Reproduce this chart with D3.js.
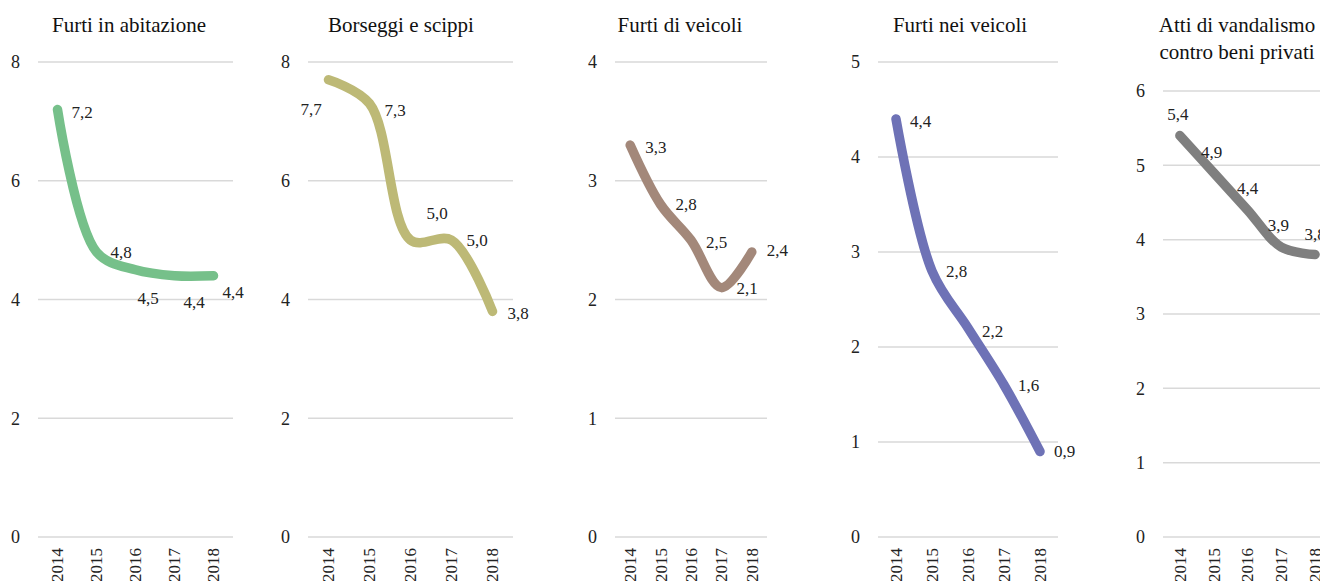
<!DOCTYPE html>
<html>
<head>
<meta charset="utf-8">
<script src="https://cdn.jsdelivr.net/npm/d3@7"></script>
<style>
  body { margin: 0; background: #fff; }
</style>
</head>
<body>
<script>
// categories and series
var years = ["2014", "2015", "2016", "2017", "2018"];
var titles = [["Furti in abitazione"], ["Borseggi e scippi"], ["Furti di veicoli"], ["Furti nei veicoli"], ["Atti di vandalismo", "contro beni privati"]];
var abitazione = [7.2, 4.8, 4.5, 4.4, 4.4];
var borseggi = [7.7, 7.3, 5.0, 5.0, 3.8];
var furtiDiVeicoli = [3.3, 2.8, 2.5, 2.1, 2.4];
var furtiNeiVeicoli = [4.4, 2.8, 2.2, 1.6, 0.9];
var vandalismo = [5.4, 4.9, 4.4, 3.9, 3.8];
var yMax = [8, 8, 4, 5, 6];
var yTicks = [[0, 2, 4, 6, 8], [0, 2, 4, 6, 8], [0, 1, 2, 3, 4], [0, 1, 2, 3, 4, 5], [0, 1, 2, 3, 4, 5, 6]];

var series = [abitazione, borseggi, furtiDiVeicoli, furtiNeiVeicoli, vandalismo];
var colors = ["#76c08a", "#bdb976", "#a3887a", "#6e72b6", "#7f7f7f"];
var font = "'Liberation Serif', 'Times New Roman', serif";

// layout of each small panel: plot left/right, top of y range, title centre
var panels = [
  {x0: 38,   x1: 233,  top: 62, tx: 129},
  {x0: 308,  x1: 513,  top: 62, tx: 401},
  {x0: 615,  x1: 767,  top: 62, tx: 680},
  {x0: 878,  x1: 1058, top: 62, tx: 960},
  {x0: 1163, x1: 1332, top: 91, tx: 1237}
];
var bottom = 537;

// label nudges (dx, dy, anchor), placed by hand in the original
var labelPos = [
  [[14, 3, "start"], [14, 0, "start"], [2, 28, "start"], [9, 26, "start"], [9, 16, "start"]],
  [[-28, 29, "start"], [15, 6, "start"], [16, -27, "start"], [15, 0, "start"], [15, 2, "start"]],
  [[15, 2, "start"], [15, 0, "start"], [15, 2, "start"], [15, 0, "start"], [15, -2, "start"]],
  [[14, 2, "start"], [14, 0, "start"], [14, 3, "start"], [14, 0, "start"], [14, 0, "start"]],
  [[-2, -22, "middle"], [-2, -21, "middle"], [0, -22, "middle"], [-3, -22, "middle"], [0, -20, "middle"]]
];

var fmt = function(v) { return d3.format(".1f")(v).replace(".", ","); };

var svg = d3.select("body").append("svg")
    .attr("width", 1320)
    .attr("height", 581)
    .style("display", "block");

panels.forEach(function(p, i) {
  var g = svg.append("g").attr("font-family", font);

  var x = d3.scalePoint().domain(years).range([p.x0, p.x1]).padding(0.5);
  var y = d3.scaleLinear().domain([0, yMax[i]]).range([bottom, p.top]);

  // gridlines
  g.selectAll(".grid")
    .data(yTicks[i])
    .enter().append("line")
    .attr("x1", p.x0).attr("x2", p.x1)
    .attr("y1", function(d) { return y(d); })
    .attr("y2", function(d) { return y(d); })
    .attr("stroke", "#d9d9d9")
    .attr("stroke-width", 1.5);

  // y tick labels
  g.selectAll(".ytick")
    .data(yTicks[i])
    .enter().append("text")
    .attr("font-family", font)
    .attr("x", p.x0 - 18)
    .attr("y", function(d) { return y(d); })
    .attr("dy", "0.35em")
    .attr("text-anchor", "end")
    .attr("font-size", 18)
    .attr("fill", "#222")
    .text(function(d) { return d; });

  // x labels, rotated
  g.selectAll(".xtick")
    .data(years)
    .enter().append("text")
    .attr("font-family", font)
    .attr("transform", function(d) { return "translate(" + x(d) + "," + (bottom + 11) + ") rotate(-90)"; })
    .attr("dy", "0.35em")
    .attr("text-anchor", "end")
    .attr("font-size", 17)
    .attr("fill", "#222")
    .text(function(d) { return d; });

  // title
  g.append("text")
    .attr("font-family", font)
    .attr("x", p.tx)
    .attr("y", 32)
    .attr("text-anchor", "middle")
    .attr("font-size", 21)
    .attr("fill", "#111")
    .selectAll("tspan")
    .data(titles[i])
    .enter().append("tspan")
    .attr("x", p.tx)
    .attr("dy", function(d, k) { return k === 0 ? 0 : 27; })
    .text(function(d) { return d; });

  // smoothed line
  var line = d3.line()
    .x(function(d, k) { return x(years[k]); })
    .y(function(d) { return y(d); })
    .curve(d3.curveCatmullRom.alpha(0.5));

  g.append("path")
    .datum(series[i])
    .attr("d", line)
    .attr("fill", "none")
    .attr("stroke", colors[i])
    .attr("stroke-width", 9.5)
    .attr("stroke-linecap", "round")
    .attr("stroke-linejoin", "round");

  // data labels
  g.selectAll(".lbl")
    .data(series[i])
    .enter().append("text")
    .attr("font-family", font)
    .attr("x", function(d, k) { return x(years[k]) + labelPos[i][k][0]; })
    .attr("y", function(d, k) { return y(d) + labelPos[i][k][1]; })
    .attr("dy", "0.35em")
    .attr("text-anchor", function(d, k) { return labelPos[i][k][2]; })
    .attr("font-size", 17)
    .attr("fill", "#222")
    .text(function(d) { return fmt(d); });
});
</script>
</body>
</html>
